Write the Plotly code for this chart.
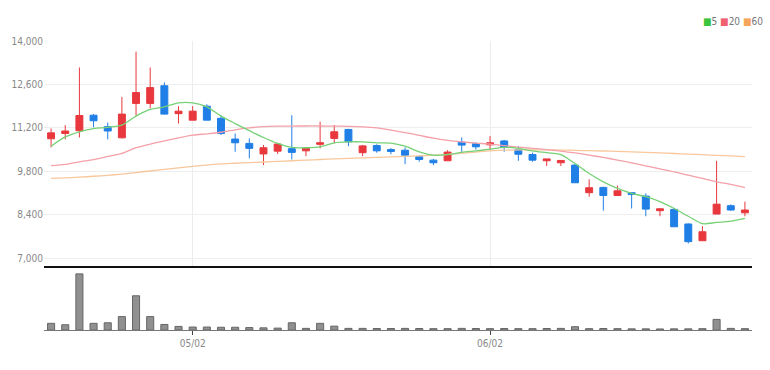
import plotly.graph_objects as go

dates = ["04/17","04/18","04/19","04/20","04/21","04/24","04/25","04/26","04/27","04/28",
         "05/02","05/03","05/04","05/08","05/09","05/10","05/11","05/12","05/15","05/16",
         "05/17","05/18","05/19","05/22","05/23","05/24","05/25","05/26","05/30","05/31",
         "06/01","06/02","06/05","06/07","06/08","06/09","06/12","06/13","06/14","06/15",
         "06/16","06/19","06/20","06/21","06/22","06/23","06/26","06/27","06/28","06/29"]

open_ = [10850,11020,11110,11610,11240,10880,11990,11990,12560,11660,
         11450,11900,11510,10840,10700,10360,10450,10530,10460,10670,
         10860,11150,10400,10630,10500,10480,10270,10160,10140,10740,
         10690,10655,10780,10500,10340,10140,10075,10000,9110,9280,
         9020,9110,9000,8530,8570,8100,7560,8420,8690,8460]
high_ = [11180,11290,13150,11650,11370,12200,13660,13150,12670,11900,
         11900,11960,11610,11020,10860,10650,10720,11610,10540,11400,
         11290,11170,10650,10670,10550,10570,10300,10200,10480,10890,
         10740,10935,10810,10610,10400,10200,10150,10030,9540,9300,
         9340,9110,9090,8610,8620,8120,8030,10140,8730,8820]
low_ = [10570,10830,10890,11220,10830,10860,11600,11830,11640,11340,
        11450,11450,10970,10430,10220,10000,10360,10180,10290,10540,
        10700,10610,10290,10400,10350,10030,10110,10000,10140,10430,
        10500,10480,10430,10140,10110,9970,9970,9430,8980,8530,
        9020,8600,8350,8350,8010,7470,7560,8420,8530,8350]
close_ = [11040,11100,11600,11430,11100,11645,12340,12500,11645,11740,
          11740,11450,11020,10720,10540,10560,10680,10410,10540,10720,
          11075,10750,10620,10460,10440,10320,10180,10075,10420,10645,
          10590,10720,10570,10350,10160,10200,10150,9430,9270,9020,
          9170,9050,8580,8590,8010,7530,7850,8740,8550,8550]

volume = [120000,95000,1000000,120000,130000,240000,610000,240000,100000,65000,
          54000,54000,50000,50000,45000,40000,35000,130000,30000,120000,
          70000,30000,30000,28000,28000,30000,28000,25000,25000,30000,
          28000,25000,28000,25000,25000,28000,30000,60000,25000,28000,
          25000,22000,22000,20000,22000,22000,25000,190000,30000,25000]

ma5 = [10610,10910,11075,11180,11215,11290,11580,11795,11880,12010,
       12010,11880,11580,11340,11110,10890,10700,10570,10560,10590,
       10720,10750,10750,10720,10710,10610,10430,10320,10340,10410,
       10460,10515,10570,10540,10460,10400,10340,10050,9730,9460,
       9250,9090,8980,8820,8600,8350,8110,8150,8190,8280]
ma20 = [9980,10020,10107,10180,10280,10376,10560,10680,10785,10880,
        10967,11010,11060,11140,11200,11240,11255,11260,11262,11262,
        11258,11250,11235,11200,11130,11050,10960,10870,10800,10750,
        10710,10677,10630,10580,10540,10500,10450,10397,10322,10247,
        10161,10075,9978,9881,9785,9677,9569,9462,9376,9275]
ma60 = [9570,9590,9610,9640,9670,9710,9760,9810,9860,9910,
        9960,10000,10040,10060,10080,10100,10120,10140,10160,10180,
        10200,10220,10235,10250,10265,10280,10300,10320,10345,10380,
        10420,10460,10480,10490,10490,10490,10485,10475,10465,10455,
        10440,10425,10410,10395,10375,10355,10335,10315,10295,10275]

price_ticks = [7000, 8400, 9800, 11200, 12600, 14000]
x_ticks = ["05/02", "06/02"]

UP = "#e8383d"
DOWN = "#1f7fe6"
C5 = "#76d176"
C20 = "#f4a0a8"
C60 = "#f8c79c"
FONT = "Liberation Sans Narrow, DejaVu Sans Condensed, Roboto Condensed, Liberation Sans, sans-serif"

fig = go.Figure()
for vals, col in ((ma60, C60), (ma20, C20), (ma5, C5)):
    fig.add_trace(go.Scatter(x=dates, y=vals, mode="lines",
                             line=dict(color=col, width=1.3, shape="spline", smoothing=0.8),
                             xaxis="x", yaxis="y", hoverinfo="skip"))
fig.add_trace(go.Candlestick(
    x=dates, open=open_, high=high_, low=low_, close=close_,
    increasing=dict(line=dict(color=UP, width=1), fillcolor=UP),
    decreasing=dict(line=dict(color=DOWN, width=1), fillcolor=DOWN),
    whiskerwidth=0, xaxis="x", yaxis="y"))
fig.add_trace(go.Bar(x=dates, y=volume, marker=dict(color="#909090", line=dict(color="#666666", width=1)),
                     width=0.5, xaxis="x2", yaxis="y2"))

fig.update_layout(
    width=770, height=370,
    margin=dict(l=39, r=18, t=20, b=30),
    paper_bgcolor="white", plot_bgcolor="white",
    showlegend=False,
    xaxis=dict(domain=[0, 1], anchor="y", type="category", range=[-0.5, 49.5],
               rangeslider=dict(visible=False), tickvals=x_ticks, showticklabels=False,
               ticks="", showgrid=True, gridcolor="#ececec", gridwidth=1,
               showline=True, linecolor="#111111", linewidth=2, fixedrange=True),
    yaxis=dict(domain=[0.231, 0.934], range=[6742, 14000], tickvals=price_ticks,
               tickformat=",", showgrid=True, gridcolor="#eeeeee", zeroline=False,
               tickfont=dict(family=FONT, size=10, color="#888888"), ticks="",
               showline=False),
    xaxis2=dict(domain=[0, 1], anchor="y2", type="category", range=[-0.5, 49.5],
                tickvals=x_ticks, ticks="outside", ticklen=4, tickcolor="#444444",
                tickfont=dict(family=FONT, size=10, color="#888888"),
                showgrid=False, showline=True, linecolor="#777777", linewidth=1),
    yaxis2=dict(domain=[0.031, 0.219], range=[0, 1070000], showticklabels=False,
                showgrid=False, zeroline=False),
    annotations=[dict(
        xref="paper", yref="paper", x=1.018, y=0.994, xanchor="right", yanchor="middle",
        showarrow=False,
        text=(f"<span style='color:#3cc43c'>■</span>5 "
              f"<span style='color:#f06070'>■</span>20 "
              f"<span style='color:#f5a55a'>■</span>60"),
        font=dict(family=FONT, size=10, color="#777777"))],
)

fig.write_html("out.html")
